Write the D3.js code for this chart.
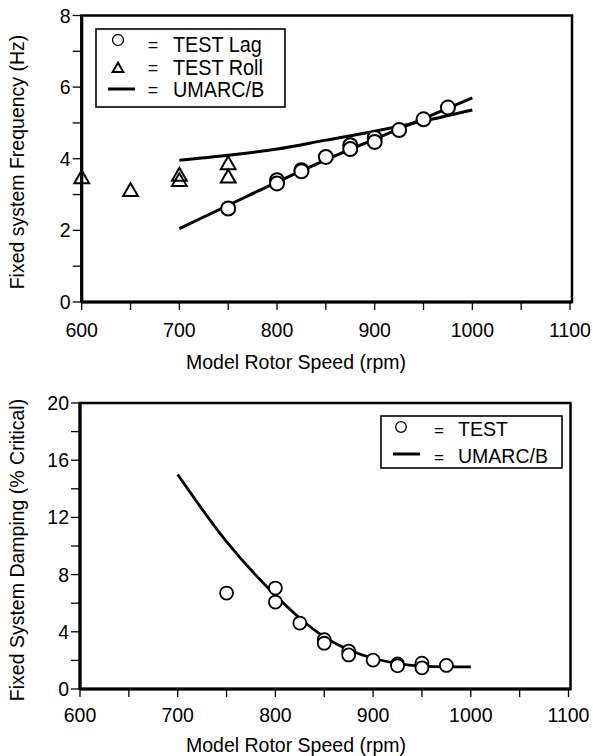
<!DOCTYPE html>
<html><head><meta charset="utf-8">
<script src="https://cdn.jsdelivr.net/npm/d3@7"></script>
<style>
body{margin:0;background:#fff;}
text{font-family:"Liberation Sans",Arial,Helvetica,sans-serif;fill:#000;}
</style></head>
<body><svg id="c" width="593" height="756"></svg>
<script>
// ---- Top chart data (Fixed system frequency, Hz) ----
const lagRpm = [750, 800, 800, 825, 825, 850, 875, 875, 900, 900, 925, 950, 975];
const lagHz  = [2.61, 3.40, 3.31, 3.68, 3.65, 4.05, 4.38, 4.27, 4.58, 4.47, 4.80, 5.10, 5.43];
const rollRpm = [600, 650, 700, 700, 750, 750];
const rollHz  = [3.48, 3.12, 3.55, 3.40, 3.87, 3.50];
const umarcLagRpm = [700, 750, 800, 850, 900, 950, 1000];
const umarcLagHz  = [2.05, 2.70, 3.35, 3.97, 4.55, 5.12, 5.70];
const umarcRollRpm = [700, 750, 800, 850, 900, 950, 1000];
const umarcRollHz  = [3.96, 4.10, 4.27, 4.52, 4.77, 5.05, 5.36];
// ---- Bottom chart data (Fixed system damping, % critical) ----
const testRpm = [750, 800, 800, 825, 850, 850, 875, 875, 900, 925, 925, 950, 950, 975];
const testDamp = [6.71, 7.06, 6.08, 4.61, 3.45, 3.20, 2.65, 2.38, 2.02, 1.75, 1.62, 1.81, 1.48, 1.65];
const umarcDampRpm = [700, 750, 800, 825, 850, 875, 900, 925, 950, 975, 1000];
const umarcDamp    = [15.0, 10.3, 6.55, 4.95, 3.65, 2.75, 2.15, 1.78, 1.60, 1.55, 1.55];
// ---- Axes ----
const xTicksMajor = [600, 700, 800, 900, 1000, 1100];
const topYTicksMajor = [0, 2, 4, 6, 8];
const botYTicksMajor = [0, 4, 8, 12, 16, 20];
const xTitle = "Model Rotor Speed (rpm)";
const topYTitle = "Fixed system Frequency (Hz)";
const botYTitle = "Fixed System Damping (% Critical)";

const svg = d3.select("#c");
const FS = 19.5;

function frame(g, x, y, yMinorStep, yMajor, xTitleY, tickLblBase) {
  const [x0, x1] = x.range(); const [y0, y1] = y.range();
  const xt = d3.range(600, 1101, 50);
  g.selectAll(".xt").data(xt).join("line")
    .attr("x1", d => x(d)).attr("x2", d => x(d)).attr("y1", y0).attr("y2", y0 + 8)
    .attr("stroke", "#000").attr("stroke-width", 1.3);
  const yd = y.domain();
  const yt = d3.range(yd[0], yd[1] + 0.001, yMinorStep);
  g.selectAll(".yt").data(yt).join("line")
    .attr("x1", x0 - 9).attr("x2", x0).attr("y1", d => y(d)).attr("y2", d => y(d))
    .attr("stroke", "#000").attr("stroke-width", 1.3);
  g.append("rect").attr("x", x0).attr("y", y1).attr("width", x1 + 2 - x0).attr("height", y0 - y1)
    .attr("fill", "none").attr("stroke", "#000").attr("stroke-width", 2.5);
  g.append("line").attr("x1", x0).attr("x2", x1 + 2).attr("y1", y0).attr("y2", y0).attr("stroke", "#000").attr("stroke-width", 3.2);
  g.append("line").attr("x1", x0).attr("x2", x0).attr("y1", y1).attr("y2", y0).attr("stroke", "#000").attr("stroke-width", 3.2);
  g.selectAll(".xl").data(xTicksMajor).join("text")
    .attr("x", d => x(d)).attr("y", tickLblBase).attr("text-anchor", "middle")
    .attr("font-size", FS).text(d => d);
  g.selectAll(".yl").data(yMajor).join("text")
    .attr("x", x0 - 11).attr("y", d => y(d)).attr("dy", "0.36em").attr("text-anchor", "end")
    .attr("font-size", FS).text(d => d);
  g.append("text").attr("x", 296).attr("y", xTitleY).attr("text-anchor", "middle")
    .attr("font-size", FS).text(xTitle);
}

// ---------- TOP ----------
const xT = d3.scaleLinear().domain([600, 1100]).range([81.7, 570]);
const yT = d3.scaleLinear().domain([0, 8]).range([302, 15.5]);
const gT = svg.append("g");
frame(gT, xT, yT, 1, topYTicksMajor, 369, 337);
gT.append("text").attr("transform", "translate(24,162) rotate(-90)").attr("text-anchor", "middle")
  .attr("font-size", FS).text(topYTitle);

const lineT = d3.line().x(d => xT(d[0])).y(d => yT(d[1])).curve(d3.curveMonotoneX);
gT.append("path").datum(d3.zip(umarcLagRpm, umarcLagHz)).attr("d", lineT)
  .attr("fill", "none").attr("stroke", "#000").attr("stroke-width", 3);
gT.append("path").datum(d3.zip(umarcRollRpm, umarcRollHz)).attr("d", lineT)
  .attr("fill", "none").attr("stroke", "#000").attr("stroke-width", 3);
gT.selectAll(".lag").data(d3.zip(lagRpm, lagHz)).join("circle")
  .attr("cx", d => xT(d[0])).attr("cy", d => yT(d[1])).attr("r", 7)
  .attr("fill", "#fff").attr("stroke", "#000").attr("stroke-width", 2);
const tri = d3.symbol().type(d3.symbolTriangle).size(95);
gT.selectAll(".roll").data(d3.zip(rollRpm, rollHz)).join("path")
  .attr("transform", d => `translate(${xT(d[0])},${yT(d[1]) + 1.5})`).attr("d", tri)
  .attr("fill", "none").attr("stroke", "#000").attr("stroke-width", 2);

// top legend
const lg = gT.append("g");
lg.append("rect").attr("x", 96).attr("y", 29).attr("width", 189).attr("height", 78)
  .attr("fill", "#fff").attr("stroke", "#000").attr("stroke-width", 1.6);
lg.append("circle").attr("cx", 118).attr("cy", 40).attr("r", 5.5).attr("fill", "none").attr("stroke", "#000").attr("stroke-width", 1.3);
lg.append("path").attr("transform", "translate(118,69)").attr("d", d3.symbol().type(d3.symbolTriangle).size(50))
  .attr("fill", "none").attr("stroke", "#000").attr("stroke-width", 2);
lg.append("line").attr("x1", 108).attr("x2", 135).attr("y1", 89).attr("y2", 89).attr("stroke", "#000").attr("stroke-width", 3);
const topLeg = ["TEST Lag", "TEST Roll", "UMARC/B"];
const topBase = [52, 75, 97];
topLeg.forEach((t, i) => {
  lg.append("text").attr("x", 153).attr("y", topBase[i] - 1).attr("text-anchor", "middle").attr("font-size", 18).text("=");
  lg.append("text").attr("transform", `translate(173,${topBase[i]}) scale(0.88,1)`).attr("font-size", 22.5).text(t);
});

// ---------- BOTTOM ----------
const xB = d3.scaleLinear().domain([600, 1100]).range([80, 568.5]);
const yB = d3.scaleLinear().domain([0, 20]).range([689, 403]);
const gB = svg.append("g");
frame(gB, xB, yB, 2, botYTicksMajor, 752, 721.5);
gB.append("text").attr("transform", "translate(24,550) rotate(-90)").attr("text-anchor", "middle")
  .attr("font-size", FS).text(botYTitle);
const lineB = d3.line().x(d => xB(d[0])).y(d => yB(d[1])).curve(d3.curveMonotoneX);
gB.append("path").datum(d3.zip(umarcDampRpm, umarcDamp)).attr("d", lineB)
  .attr("fill", "none").attr("stroke", "#000").attr("stroke-width", 2.8);
gB.selectAll(".t").data(d3.zip(testRpm, testDamp)).join("circle")
  .attr("cx", d => xB(d[0])).attr("cy", d => yB(d[1])).attr("r", 6.5)
  .attr("fill", "#fff").attr("stroke", "#000").attr("stroke-width", 1.8);
const lb = gB.append("g");
lb.append("rect").attr("x", 381).attr("y", 416).attr("width", 181).attr("height", 52)
  .attr("fill", "#fff").attr("stroke", "#000").attr("stroke-width", 1.6);
lb.append("circle").attr("cx", 401).attr("cy", 427).attr("r", 5.3).attr("fill", "none").attr("stroke", "#000").attr("stroke-width", 1.3);
lb.append("line").attr("x1", 393).attr("x2", 420).attr("y1", 454).attr("y2", 454).attr("stroke", "#000").attr("stroke-width", 3);
const botLeg = ["TEST", "UMARC/B"];
const botBase = [436, 463];
botLeg.forEach((t, i) => {
  lb.append("text").attr("x", 439).attr("y", botBase[i]).attr("text-anchor", "middle").attr("font-size", 17).text("=");
  lb.append("text").attr("x", 458).attr("y", botBase[i]).attr("font-size", FS).text(t);
});
</script></body></html>
